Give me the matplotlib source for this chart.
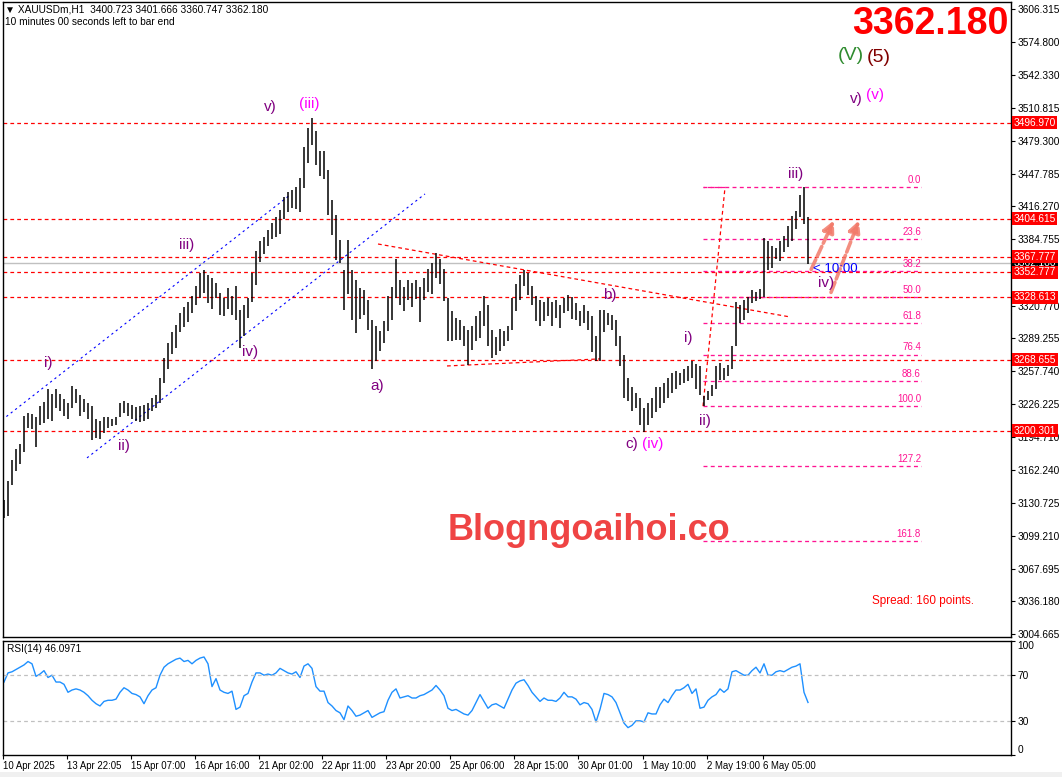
import matplotlib
matplotlib.use("Agg")
import matplotlib.pyplot as plt
import numpy as np

# ---------------- data ----------------
bar_high = [3134,3152,3172,3183,3188,3215,3217,3216,3214,3224,
            3228,3241,3236,3241,3236,3231,3227,3243,3241,3235,
            3231,3227,3224,3212,3210,3214,3214,3212,3214,3227,
            3229,3227,3225,3223,3224,3225,3227,3232,3235,3251,
            3270,3285,3295,3302,3314,3319,3324,3330,3340,3352,
            3355,3350,3347,3343,3333,3328,3338,3330,3340,3317,
            3321,3328,3352,3373,3383,3387,3394,3400,3406,3413,
            3425,3430,3432,3435,3444,3473,3492,3501,3489,3470,
            3470,3451,3422,3408,3384,3355,3384,3355,3345,3338,
            3336,3326,3307,3301,3296,3306,3330,3339,3366,3345,
            3339,3345,3343,3345,3339,3347,3356,3362,3371,3366,
            3356,3328,3316,3309,3307,3301,3297,3301,3311,3316,
            3330,3321,3297,3291,3298,3296,3301,3328,3342,3350,
            3355,3352,3340,3330,3326,3324,3328,3324,3326,3321,
            3328,3331,3329,3323,3316,3321,3316,3311,3292,3317,
            3317,3314,3312,3307,3292,3273,3251,3242,3237,3232,
            3222,3227,3232,3242,3242,3246,3251,3256,3258,3256,
            3260,3263,3267,3265,3263,3234,3239,3244,3263,3266,
            3261,3264,3282,3324,3321,3326,3329,3336,3334,3337,
            3386,3383,3378,3376,3383,3388,3397,3407,3412,3427,
            3435,3406]
bar_low = [3116,3118,3148,3162,3168,3180,3203,3202,3185,3206,
           3208,3212,3210,3222,3219,3215,3212,3222,3227,3215,
           3218,3212,3191,3193,3192,3198,3203,3205,3206,3214,
           3217,3215,3212,3210,3209,3210,3212,3219,3222,3227,
           3246,3260,3274,3280,3295,3300,3305,3314,3321,3328,
           3333,3323,3318,3328,3312,3311,3318,3312,3307,3280,
           3292,3309,3324,3341,3363,3370,3378,3385,3387,3390,
           3404,3411,3415,3414,3411,3434,3458,3475,3456,3446,
           3443,3408,3389,3365,3362,3317,3332,3307,3294,3308,
           3312,3297,3260,3267,3277,3285,3296,3307,3328,3321,
           3316,3326,3319,3327,3305,3326,3334,3332,3347,3342,
           3325,3287,3287,3288,3288,3282,3264,3278,3287,3290,
           3301,3282,3270,3273,3277,3282,3287,3297,3316,3326,
           3340,3331,3321,3306,3301,3306,3311,3301,3309,3299,
           3314,3316,3308,3307,3301,3304,3297,3276,3267,3267,
           3295,3302,3297,3282,3263,3232,3229,3219,3222,3206,
           3199,3206,3213,3218,3222,3227,3232,3237,3241,3244,
           3246,3248,3251,3241,3235,3224,3230,3234,3241,3249,
           3249,3253,3260,3282,3304,3307,3314,3323,3325,3327,
           3329,3355,3357,3366,3364,3372,3377,3383,3395,3406,
           3399,3361]
rsi_values = [64,72,73,75,77,79,82,80,69,71,
              74,68,70,64,64,62,55,57,58,57,
              55,52,48,45,43,47,48,48,49,55,
              59,57,54,53,51,45,52,57,59,70,
              77,80,82,84,85,82,83,80,83,85,
              86,80,60,67,57,55,54,56,40,42,
              52,54,64,72,72,70,71,70,72,76,
              74,72,71,73,68,78,80,76,60,56,
              56,46,43,39,37,31,43,39,34,35,
              37,39,33,35,37,38,48,55,58,50,
              51,52,50,50,52,53,55,57,61,57,
              52,41,39,40,38,36,35,39,46,53,
              47,41,44,45,43,41,49,57,63,65,
              66,61,55,51,47,50,48,48,47,50,
              55,51,51,49,44,46,45,40,29,40,
              54,53,51,46,37,28,24,26,30,30,
              29,37,36,36,44,49,46,52,57,57,
              59,62,54,58,41,42,48,51,53,58,
              55,58,73,74,72,70,70,74,77,72,
              80,70,70,73,74,73,75,77,78,80,
              55,46.0971]

price_ticks = [3606.315,3574.800,3542.330,3510.815,3479.300,3447.785,3416.270,
               3384.755,3320.770,3289.255,3257.740,3226.225,3194.710,3162.240,
               3130.725,3099.210,3067.695,3036.180,3004.665]
level_prices = [3496.970,3404.615,3367.777,3352.777,3328.613,3268.655,3200.301]
last_price = 3362.180

date_labels = ['10 Apr 2025','13 Apr 22:05','15 Apr 07:00','16 Apr 16:00','21 Apr 02:00',
               '22 Apr 11:00','23 Apr 20:00','25 Apr 06:00','28 Apr 15:00','30 Apr 01:00',
               '1 May 10:00','2 May 19:00','6 May 05:00']
date_pos = [-0.25,15.65,31.7,47.75,63.65,79.55,95.5,111.6,127.6,143.6,159.8,175.7,189.7]

fib_high, fib_low = 3434.5, 3224.0
fib_levels = [0.0, 23.6, 38.2, 50.0, 61.8, 76.4, 88.6, 100.0, 127.2, 161.8]
fib_x = [174.75, 229.25]
fib_trend_x = [174.75, 180.25]

chan_upper_x, chan_upper_y = [-0.5, 71.5], [3210.7, 3427.3]
chan_lower_x, chan_lower_y = [20.75, 105.25], [3174.2, 3428.3]
wedge_top_x, wedge_top_y = [93.5, 196.5], [3380.1, 3309.9]
wedge_bot_x, wedge_bot_y = [110.75, 149.0], [3262.7, 3269.5]
arrows = [((201.5, 3353.2), (207.75, 3405.2)), ((206.5, 3331.0), (214.0, 3405.2))]

# ---------------- figure ----------------
W, H = 1062, 777
fig = plt.figure(figsize=(W / 100, H / 100), dpi=100)
fig.patch.set_facecolor('white')
SMALL = ['Liberation Sans', 'DejaVu Sans']

def fx(x):
    return x / W

def fy(y):
    return 1 - y / H

ax = fig.add_axes([fx(3), fy(637), fx(1011) - fx(3), fy(2) - fy(637)])
rax = fig.add_axes([fx(3), fy(755), fx(1011) - fx(3), fy(641) - fy(755)])

idx = np.arange(len(bar_high))
xlim = (-0.25, 251.75)

# bars
ax.vlines(idx, bar_low, bar_high, color='black', lw=1.1, zorder=3)

# horizontal levels
for p in level_prices:
    ax.axhline(p, color='#ff0000', lw=0.9, ls=(0, (3, 2.5)), zorder=2)
ax.axhline(last_price, color='#c0c0c0', lw=1.0, zorder=1)

# fibonacci
rng = fib_high - fib_low
for lv in fib_levels:
    yp = fib_high - lv / 100 * rng
    ax.plot(fib_x, [yp, yp], color='#ff1493', lw=0.95, ls=(0, (3, 2.5)), zorder=2)
    ax.annotate(f'{lv:.1f}', (fib_x[1], yp), xytext=(0, 1.5), textcoords='offset points',
                ha='right', va='bottom', color='#ff1493', fontsize=7, family=SMALL)
ax.plot(fib_trend_x, [fib_low, fib_high], color='#ff0000', lw=0.9, ls=(0, (3, 2.5)), zorder=2)
ax.plot([fib_trend_x[1], fib_x[0]], [fib_high, fib_high], color='#ff1493', lw=0.9,
        ls=(0, (3, 2.5)), zorder=2)

# channel & wedge
ax.plot(chan_upper_x, chan_upper_y, color='#0000ff', lw=0.8, ls=(0, (2, 3)), zorder=2)
ax.plot(chan_lower_x, chan_lower_y, color='#0000ff', lw=0.8, ls=(0, (2, 3)), zorder=2)
ax.plot(wedge_top_x, wedge_top_y, color='#ff0000', lw=0.9, ls=(0, (3, 2.5)), zorder=2)
ax.plot(wedge_bot_x, wedge_bot_y, color='#ff0000', lw=0.9, ls=(0, (3, 2.5)), zorder=2)

# arrows
for (x0, y0), (x1, y1) in arrows:
    ax.annotate('', xy=(x1, y1), xytext=(x0, y0),
                arrowprops=dict(arrowstyle='-|>', color='#f27a6a', lw=2.6, alpha=0.85,
                                mutation_scale=17, linestyle=(0, (3, 1))), zorder=4)

ax.set_xlim(*xlim)
ax.set_ylim(3001.8, 3613.05)
ax.yaxis.tick_right()
ax.set_yticks(price_ticks)
ax.set_yticklabels([f'{v:.3f}' for v in price_ticks])
ax.tick_params(axis='y', direction='out', length=3, width=0.8, pad=1.5, labelsize=7.3,
               colors='black')
for lab in ax.get_yticklabels():
    lab.set_family(SMALL)
ax.set_xticks([])
for s in ax.spines.values():
    s.set_color('black')
    s.set_linewidth(1.0)

# right-side price boxes
ax.text(1.0025, last_price, f'{last_price:.3f}', transform=ax.get_yaxis_transform(),
        ha='left', va='center', fontsize=7.3, color='white', family=SMALL, clip_on=False,
        bbox=dict(facecolor='black', edgecolor='none', pad=1.2), zorder=5)
for p in level_prices:
    ax.text(1.0025, p, f'{p:.3f}', transform=ax.get_yaxis_transform(), ha='left',
            va='center', fontsize=7.3, color='white', family=SMALL, clip_on=False,
            bbox=dict(facecolor='#ff0000', edgecolor='none', pad=1.2), zorder=6)

# ---------------- RSI ----------------
rax.plot(np.arange(len(rsi_values)), rsi_values, color='#1e90ff', lw=1.0)
for lv in (70, 30):
    rax.axhline(lv, color='#c0c0c0', lw=0.9, ls=(0, (3, 2.5)))
rax.set_xlim(*xlim)
rax.set_ylim(0, 100)
rax.yaxis.tick_right()
rax.set_yticks([0, 30, 70, 100])
rax.set_yticklabels(['0', '30', '70', '100'])
rax.tick_params(axis='y', direction='out', length=3, width=0.8, pad=1.5, labelsize=7.3)
ylabs = rax.get_yticklabels()
ylabs[0].set_va('bottom')
ylabs[-1].set_va('top')
for lab in ylabs:
    lab.set_family(SMALL)
rax.set_xticks(date_pos)
rax.set_xticklabels(date_labels)
rax.tick_params(axis='x', direction='out', length=3, width=0.8, pad=1.5, labelsize=6.9)
for lab in rax.get_xticklabels():
    lab.set_ha('left')
    lab.set_family(SMALL)
for s in rax.spines.values():
    s.set_color('black')
    s.set_linewidth(1.0)
rax.text(0.004, 0.97, 'RSI(14) 46.0971', transform=rax.transAxes, ha='left', va='top',
         fontsize=7.3, family=SMALL)

# ---------------- annotations ----------------
def label(x, y, s, color, size=11, **kw):
    fig.text(fx(x), fy(y), s, color=color, fontsize=size, ha='center', va='center',
             family=['Liberation Sans', 'DejaVu Sans'], **kw)

PURPLE = '#800080'
MAG = '#ff00ff'
label(48, 363, 'i)', PURPLE)
label(124, 446, 'ii)', PURPLE)
label(187, 245, 'iii)', PURPLE)
label(250, 352, 'iv)', PURPLE)
label(270, 107, 'v)', PURPLE)
label(309, 104, '(iii)', MAG)
label(377, 386, 'a)', PURPLE)
label(610, 295, 'b)', PURPLE)
label(632, 444, 'c)', PURPLE)
label(653, 444, '(iv)', MAG)
label(688, 338, 'i)', PURPLE)
label(705, 421, 'ii)', PURPLE)
label(796, 174, 'iii)', PURPLE)
label(826, 283, 'iv)', PURPLE)
label(856, 99, 'v)', PURPLE)
label(875, 95, '(v)', MAG)
label(851, 55, '(V)', '#2e8b2e', size=14)
label(879, 58, '(5)', '#800000', size=14)
label(930, 24, '3362.180', '#ff0000', size=27, fontweight='bold')
label(589, 531, 'Blogngoaihoi.co', '#ef4444', size=26, fontweight='bold')
label(923, 601, 'Spread: 160 points.', '#ff0000', size=8.5)
fig.text(fx(813), fy(269), '< 10:00', color='#0000ff', fontsize=9.5, ha='left', va='center',
         family=SMALL)

fig.text(fx(5), fy(9), '\u25bc XAUUSDm,H1  3400.723 3401.666 3360.747 3362.180', fontsize=7.3,
         ha='left', va='center', family=SMALL)
fig.text(fx(5), fy(22), '10 minutes 00 seconds left to bar end', fontsize=7.3, ha='left',
         va='center', family=SMALL)

fig.patches.append(plt.Rectangle((0, 0), 1, fy(772), transform=fig.transFigure,
                                 facecolor='#f0f0f0', edgecolor='none', zorder=-1))

fig.savefig('out.png', dpi=100)
